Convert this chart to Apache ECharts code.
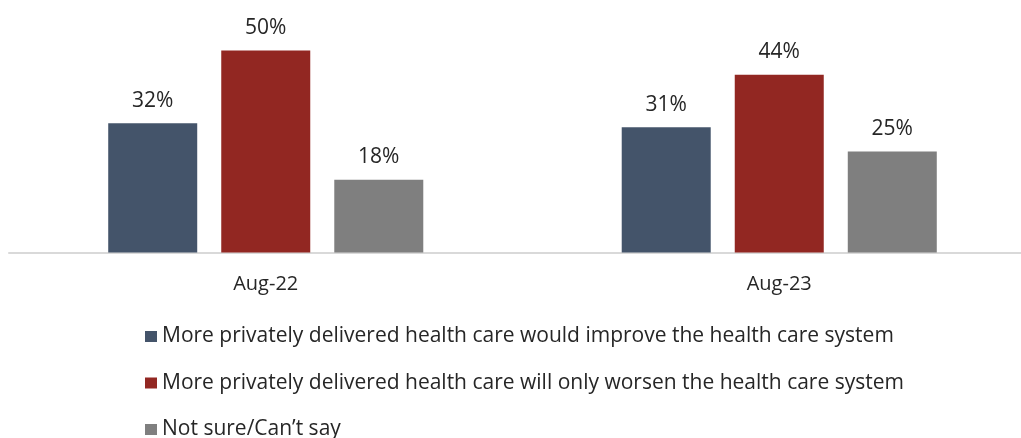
<!DOCTYPE html>
<html><head><meta charset="utf-8">
<script src="https://cdn.jsdelivr.net/npm/echarts@6/dist/echarts.min.js"></script>
<style>html,body{margin:0;padding:0;background:#fff}#c{width:1021px;height:438px}</style>
</head><body><div id="c"></div>
<script>
const categories = ["Aug-22", "Aug-23"];
const seriesNames = [
  "More privately delivered health care would improve the health care system",
  "More privately delivered health care will only worsen the health care system",
  "Not sure/Can\u2019t say"
];
const improveValues = [32, 31];
const worsenValues = [50, 44];
const notSureValues = [18, 25];
const colors = ["#44546A", "#922722", "#7F7F7F"];
const FONT = "Open Sans";

const chart = echarts.init(document.getElementById('c'));
const mk = (name, data, color) => ({
  name, type: 'bar', data, barWidth: 89, barGap: '27%',
  itemStyle: { color },
  label: { show: true, position: 'top', distance: 12, formatter: '{c}%',
           color: '#262626', fontSize: 21, fontFamily: FONT }
});
chart.setOption({
  animation: false,
  grid: { left: 9, width: 1027, top: 10, bottom: 185.5, containLabel: false, outerBoundsMode: 'none' },
  xAxis: {
    type: 'category', data: categories,
    axisLine: { lineStyle: { color: '#D9D9D9', width: 2 } },
    axisTick: { show: false },
    axisLabel: { color: '#262626', fontSize: 20, fontFamily: FONT, margin: 22 }
  },
  yAxis: { type: 'value', min: 0, max: 60, show: false, splitLine: { show: false } },
  legend: {
    orient: 'vertical', left: 145, top: 326, height: 140, itemGap: 25.5, padding: 0,
    itemWidth: 12, itemHeight: 11, icon: 'rect',
    textStyle: { color: '#262626', fontSize: 21, fontFamily: FONT },
    data: seriesNames
  },
  series: [
    mk(seriesNames[0], improveValues, colors[0]),
    mk(seriesNames[1], worsenValues, colors[1]),
    mk(seriesNames[2], notSureValues, colors[2])
  ]
});
</script></body></html>
